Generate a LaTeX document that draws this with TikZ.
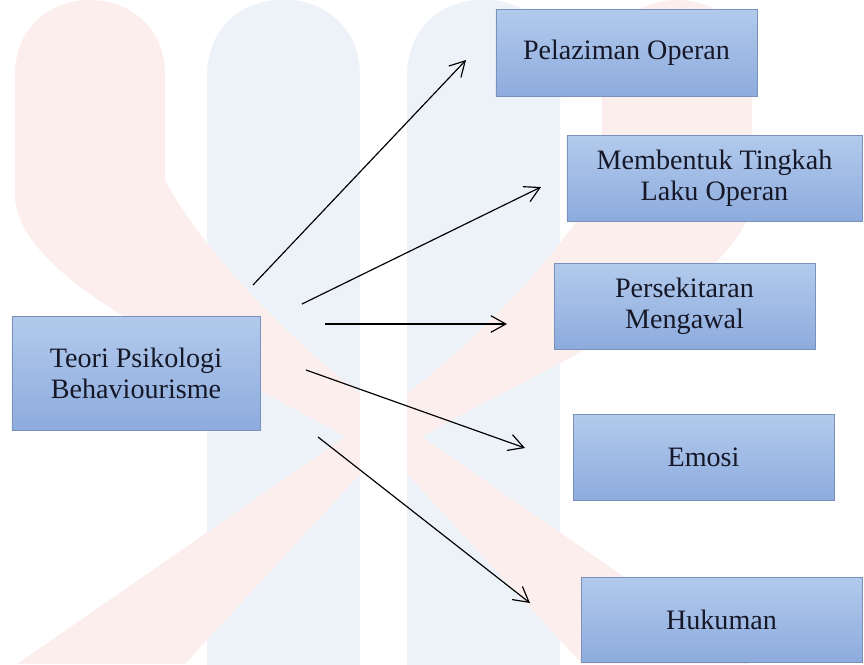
\documentclass[tikz,border=0pt]{standalone}
\usepackage{fontspec}
\setmainfont{Liberation Serif}
\usetikzlibrary{arrows.meta}
\definecolor{boxtop}{RGB}{178,202,236}
\definecolor{boxbot}{RGB}{141,171,221}
\definecolor{boxline}{RGB}{122,146,186}
\definecolor{wmpink}{RGB}{253,238,238}
\definecolor{wmblue}{RGB}{236,242,247}
\definecolor{txt}{RGB}{22,24,40}

\begin{document}
\begin{tikzpicture}[x=0.03cm,y=-0.03cm,
  box/.style={draw=boxline,top color=boxtop,bottom color=boxbot,align=center,inner sep=0pt,text=txt,font=\fontsize{24}{26.5}\selectfont},
  link/.style={line width=1pt,-{Straight Barb[length=4.5mm,width=5mm]}}]
\useasboundingbox (0,0) rectangle (864,664);
\clip (0,0) rectangle (864,664);

\fill[wmblue] (207,700) -- (207,76) .. controls (207,-26) and (360,-26) .. (360,76) -- (360,700) -- cycle;
\fill[wmblue] (407,700) -- (407,76) .. controls (407,-26) and (560,-26) .. (560,76) -- (560,700) -- cycle;
\fill[wmpink] (15,75) .. controls (15,-25) and (165,-25) .. (165,75) -- (165,180) .. controls (207,260) and (317,370) .. (412,430) -- (750,664) -- (582,664) -- (408,475) .. controls (267,380) and (27,300) .. (15,200) -- cycle;
\fill[wmpink] (752,75) .. controls (752,-25) and (602,-25) .. (602,75) -- (602,180) .. controls (560,260) and (450,370) .. (355,430) -- (17,664) -- (185,664) -- (359,475) .. controls (500,380) and (740,300) .. (752,200) -- cycle;
\fill[white] (360,0) rectangle (407,664);

\node[box,minimum width=7.44cm,minimum height=3.42cm] (teori) at (136,373) {Teori Psikologi\\Behaviourisme};
\node[box,minimum width=7.83cm,minimum height=2.61cm] (pelaziman) at (626.5,52.5) {Pelaziman Operan};
\node[box,minimum width=8.85cm,minimum height=2.58cm] (membentuk) at (714.5,178) {Membentuk Tingkah\\Laku Operan};
\node[box,minimum width=7.83cm,minimum height=2.58cm] (persekitaran) at (684.5,306) {Persekitaran\\Mengawal};
\node[box,minimum width=7.83cm,minimum height=2.58cm] (emosi) at (703.5,457) {Emosi};
\node[box,minimum width=8.43cm,minimum height=2.55cm] (hukuman) at (721.5,619.5) {Hukuman};

\coordinate (a1) at (253,285); \coordinate (b1) at (466,60);
\coordinate (a2) at (302,304); \coordinate (b2) at (541,187);
\coordinate (a3) at (325,324); \coordinate (b3) at (507,324);
\coordinate (a4) at (306,370); \coordinate (b4) at (525,448);
\coordinate (a5) at (318,437); \coordinate (b5) at (530,603);
\draw[link] (a1) -- (b1);
\draw[link] (a2) -- (b2);
\draw[link] (a3) -- (b3);
\draw[link] (a4) -- (b4);
\draw[link] (a5) -- (b5);

\end{tikzpicture}
\end{document}
